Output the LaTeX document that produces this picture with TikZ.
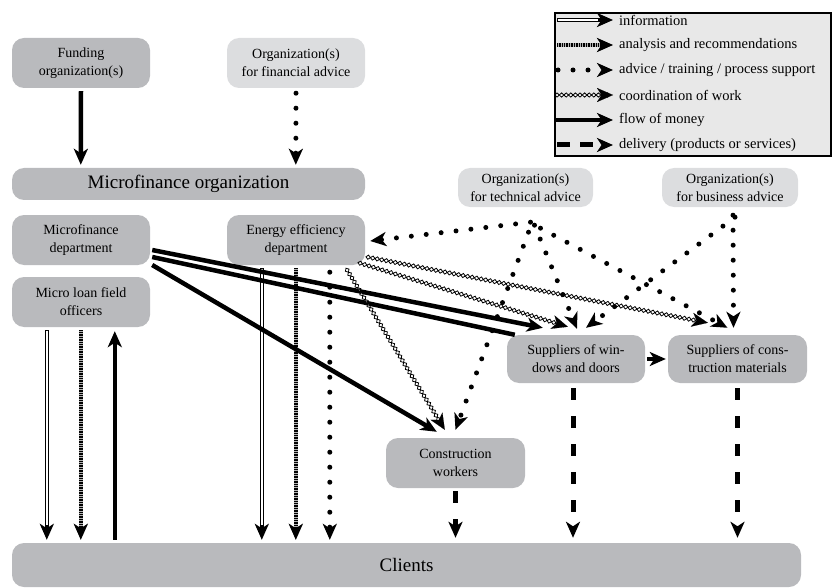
\documentclass[tikz,border=0pt]{standalone}
\usepackage{fontspec}
\setmainfont{Liberation Serif}
\usetikzlibrary{arrows.meta,calc,decorations.markings}
\definecolor{boxdark}{RGB}{185,186,189}
\definecolor{boxlight}{RGB}{220,221,223}
\definecolor{legbg}{RGB}{232,232,232}
\begin{document}
\begin{tikzpicture}[x=1pt,y=-1pt,
  >={Stealth[length=16pt,width=14pt,inset=4.5pt]},
  box/.style={fill=boxdark, rounded corners=12pt, minimum width=138pt, minimum height=50pt,
    inner sep=0pt, align=center, font=\fontsize{14}{18}\selectfont},
  lbox/.style={box, fill=boxlight, minimum height=39pt},
  bigbox/.style={box, font=\fontsize{19}{22}\selectfont},
  money/.style={->, line width=4.5pt},
  thickline/.style={line width=4.5pt},
  info/.style={->, line width=4.5pt,
    postaction={draw=white, line width=2pt, -, shorten >=15pt, shorten <=0.5pt}},
  advice/.style={->, line width=5pt, line cap=round, dash pattern=on 0pt off 15pt},
  delivery/.style={->, line width=5pt, dash pattern=on 12pt off 16pt},
  analysis/.style={->, line width=4.5pt, draw=black!30,
    postaction={draw=black, dash pattern=on 0.6pt off 1.1pt}},
  coord/.style={-{Stealth[length=16pt,width=14pt,inset=4.5pt,color=black]}, draw=white, line width=0.1pt,
    postaction={decorate, decoration={markings,
      mark=between positions 0 and 0.96 step 4.6pt with
      {\draw[black,line width=0.8pt] (-2.3pt,0pt)--(0pt,2.1pt)--(2.3pt,0pt)--(0pt,-2.1pt)--cycle;}}}},
  legtext/.style={anchor=west, inner sep=0pt, font=\fontsize{14.5}{16}\selectfont}
]
\useasboundingbox (0,0) rectangle (832,588);

% boxes
\node[box] (fund) at (81,63) {Funding\\organization(s)};
\node[lbox, minimum height=50pt] (fin) at (296,63) {Organization(s)\\for financial advice};
\node[bigbox, minimum width=353pt, minimum height=32pt] (mfo) at (188.5,184) {Microfinance organization};
\node[box] (mfd) at (81,240) {Microfinance\\department};
\node[box] (eed) at (296,240) {Energy efficiency\\department};
\node[box] (mlo) at (81,302) {Micro loan field\\officers};
\node[lbox, minimum width=135pt] (tech) at (525.5,187.5) {Organization(s)\\for technical advice};
\node[lbox, minimum width=136pt] (bus) at (730,187.5) {Organization(s)\\for business advice};
\node[box, minimum height=48pt] (swd) at (576,359) {Suppliers of win-\\dows and doors};
\node[box, minimum width=139pt, minimum height=48pt] (scm) at (737.5,359) {Suppliers of cons-\\truction materials};
\node[box, minimum width=139pt] (cw) at (455.5,463) {Construction\\workers};
\node[bigbox, minimum width=789pt, minimum height=44pt] (cl) at (406.5,565) {Clients};

% top
\draw[money] ($(fund.south)+(0,3)$) -- ($(mfo.north west)+(69,-3)$);
\draw[advice] ($(fin.south)+(0,5)$) -- ($(mfo.north west)+(284,-3)$);

% officers <-> clients
\draw[info] ($(mlo.south west)+(35,3)$) -- ($(cl.north west)+(35,-3)$);
\draw[analysis] ($(mlo.south west)+(69,3)$) -- ($(cl.north west)+(69,-3)$);
\draw[money] ($(cl.north west)+(103,-3)$) -- ($(mlo.south west)+(103,4)$);

% energy efficiency department -> clients
\draw[info] ($(eed.south west)+(35,3)$) -- ($(cl.north west)+(250,-3)$);
\draw[analysis] ($(eed.south west)+(69,3)$) -- ($(cl.north west)+(284,-3)$);
\draw[advice] ($(eed.south west)+(103,7)$) -- ($(cl.north west)+(318,-3)$);

% money from microfinance department
\draw[money] ($(mfd.east)+(2,10)$) -- ($(swd.north west)+(36,-7)$);
\draw[thickline] ($(mfd.east)+(2,17)$) -- ($(swd.north west)+(8,0)$);
\draw[money] ($(mfd.east)+(2,25)$) -- ($(cw.north west)+(51,-6)$);

% coordination
\draw[coord] ($(eed.south east)+(-18,5)$) -- ($(cw.north west)+(59,-8)$);
\draw[coord] ($(eed.south east)+(-5,-2)$) -- ($(swd.north west)+(61,-8)$);
\draw[coord] ($(eed.south east)+(3,-8)$) -- ($(scm.north west)+(40,-12)$);

% technical advice
\draw[advice] ($(tech.south)+(5,15)$) -- ($(eed.east)+(5,1)$);
\draw[advice] ($(tech.south)+(9,18)$) -- ($(swd.north)+(1,-6)$);
\draw[advice] ($(tech.south)+(3,25)$) -- ($(cw.north)+(0,-8)$);
\draw[advice] ($(tech.south)+(15,21)$) -- ($(scm.north)+(-10,-7)$);

% business advice
\draw[advice] ($(bus.south)+(3,8)$) -- ($(scm.north)+(-4,-7)$);
\draw[advice] ($(bus.south)+(5,10)$) -- ($(swd.north)+(10,-7)$);

% suppliers
\draw[money] ($(swd.east)+(2,0)$) -- ($(scm.west)+(-2,0)$);

% delivery
\draw[delivery] ($(cw.south)+(0,3)$) -- ($(cw.south |- cl.north)+(0,-5)$);
\draw[delivery] ($(swd.south)+(-3,5)$) -- ($(swd.south |- cl.north)+(-3,-5)$);
\draw[delivery] ($(scm.south)+(0,5)$) -- ($(scm.south |- cl.north)+(0,-5)$);

% legend
\node[draw=black, line width=2pt, fill=legbg, minimum width=276pt, minimum height=143pt,
  inner sep=0pt, anchor=north west] (leg) at (554,12) {};
\draw[info] ($(leg.north west)+(3,8)$) -- ++(56,0);
\node[legtext] (l1) at ($(leg.north west)+(65,8)$) {information};
\draw[analysis] ($(leg.north west)+(3,33)$) -- ++(56,0);
\node[legtext] (l2) at ($(leg.north west)+(65,33)$) {analysis and recommendations};
\draw[advice] ($(leg.north west)+(4,58)$) -- ++(55,0);
\node[legtext] (l3) at ($(leg.north west)+(65,58)$) {advice / training / process support};
\draw[coord] ($(leg.north west)+(3,83)$) -- ++(56,0);
\node[legtext] (l4) at ($(leg.north west)+(65,83)$) {coordination of work};
\draw[money] ($(leg.north west)+(2,108)$) -- ++(57,0);
\node[legtext] (l5) at ($(leg.north west)+(65,108)$) {flow of money};
\draw[delivery, dash pattern=on 13pt off 10pt] ($(leg.north west)+(3,133)$) -- ++(56,0);
\node[legtext] (l6) at ($(leg.north west)+(65,133)$) {delivery (products or services)};
\end{tikzpicture}
\end{document}
